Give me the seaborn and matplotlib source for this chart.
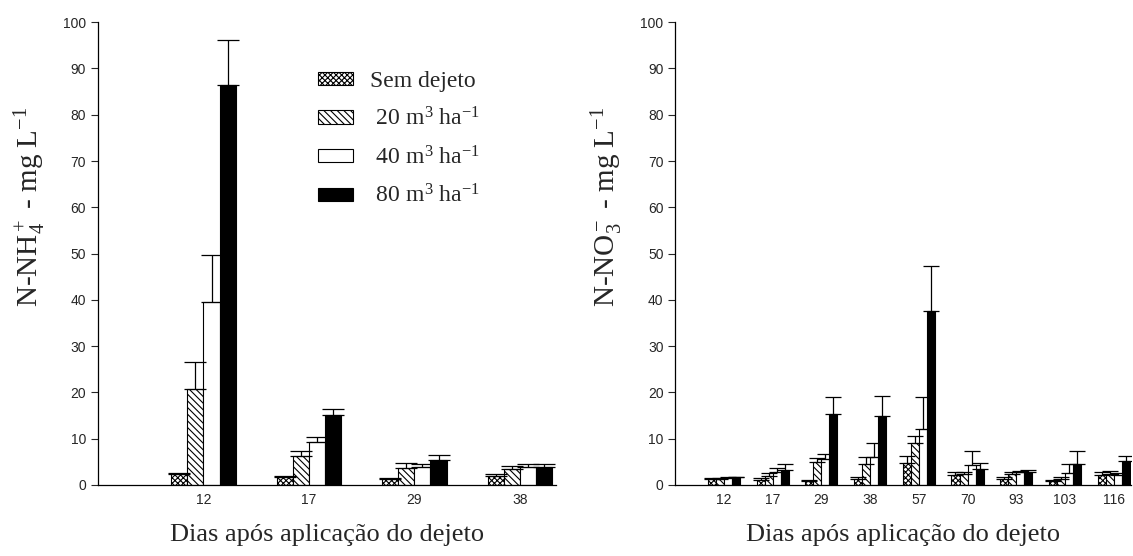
import numpy as np
import pandas as pd
import matplotlib
matplotlib.use("Agg")
import matplotlib.pyplot as plt
import seaborn as sns
from matplotlib.patches import Patch

sns.set_theme(style="ticks")
plt.rcParams['font.family'] = ['Liberation Serif', 'DejaVu Serif']
plt.rcParams['mathtext.fontset'] = 'custom'
plt.rcParams['mathtext.rm'] = 'Liberation Serif'
plt.rcParams['mathtext.it'] = 'Liberation Serif:italic'
plt.rcParams['hatch.linewidth'] = 0.8

# ---------------- data ----------------
treatments = ['Sem dejeto', '20', '40', '80']

dias_nh4 = ['12', '17', '29', '38']
nh4_sem = [2.3, 1.7, 1.3, 2.0]
nh4_sem_err = [0.2, 0.2, 0.2, 0.3]
nh4_20 = [20.8, 6.2, 3.6, 3.5]
nh4_20_err = [5.8, 1.1, 1.2, 0.5]
nh4_40 = [39.5, 9.3, 3.9, 3.8]
nh4_40_err = [10.2, 1.1, 0.7, 0.8]
nh4_80 = [86.5, 15.2, 5.4, 3.8]
nh4_80_err = [9.7, 1.2, 1.0, 0.8]

dias_no3 = ['12', '17', '29', '38', '57', '70', '93', '103', '116']
no3_sem = [1.2, 1.1, 0.9, 1.3, 4.8, 2.2, 1.3, 0.8, 2.1]
no3_sem_err = [0.2, 0.3, 0.2, 0.3, 1.4, 0.5, 0.3, 0.3, 0.6]
no3_20 = [1.3, 2.0, 5.0, 4.4, 9.0, 2.3, 2.4, 1.3, 2.4]
no3_20_err = [0.2, 0.5, 0.8, 1.6, 1.6, 0.5, 0.3, 0.3, 0.6]
no3_40 = [1.4, 2.8, 5.5, 6.0, 12.0, 4.3, 2.7, 2.6, 2.2]
no3_40_err = [0.2, 0.8, 1.2, 3.0, 7.0, 3.0, 0.3, 1.8, 0.4]
no3_80 = [1.6, 3.1, 15.3, 14.9, 37.6, 3.5, 2.8, 4.5, 5.2]
no3_80_err = [0.2, 1.5, 3.6, 4.2, 9.8, 1.3, 0.3, 2.8, 1.1]

legend_labels = ['Sem dejeto',
                 r' 20 m$^3$ ha$^{-1}$',
                 r' 40 m$^3$ ha$^{-1}$',
                 r' 80 m$^3$ ha$^{-1}$']

styles = [dict(facecolor='white', hatch='xxxxxx'),
          dict(facecolor='white', hatch='\\\\\\\\\\'),
          dict(facecolor='white', hatch=''),
          dict(facecolor='black', hatch='')]


def make_df(dias, vals):
    rows = []
    for t, v in zip(treatments, vals):
        for d, y in zip(dias, v):
            rows.append(dict(dia=d, trat=t, val=y))
    return pd.DataFrame(rows)


def draw(ax, dias, vals, errs, width, capsize):
    df = make_df(dias, vals)
    order = [' '] + dias
    sns.barplot(data=df, x='dia', y='val', hue='trat', order=order,
                hue_order=treatments, errorbar=None, width=width,
                edgecolor='black', linewidth=0.8, legend=False, ax=ax)
    for cont, st, err in zip(ax.containers, styles, errs):
        xs, hs, es = [], [], []
        for bar in cont:
            bar.set_facecolor(st['facecolor'])
            bar.set_hatch(st['hatch'])
            bar.set_edgecolor('black')
            xc = bar.get_x() + bar.get_width() / 2
            idx = int(round(xc)) - 1
            if 0 <= idx < len(err):
                xs.append(xc)
                hs.append(bar.get_height())
                es.append(err[idx])
        ax.errorbar(xs, hs, yerr=[np.zeros(len(es)), es], fmt='none',
                    ecolor='black', elinewidth=0.9, capsize=capsize,
                    capthick=0.9)
    ax.set_ylim(0, 100)
    ax.set_yticks(np.arange(0, 101, 10))
    for lab in ax.get_yticklabels() + ax.get_xticklabels():
        lab.set_family(['Liberation Sans', 'DejaVu Sans'])
        lab.set_fontsize(10)
    ax.tick_params(axis='x', length=0, pad=6)
    ax.tick_params(axis='y', length=5, width=0.8, direction='out')
    sns.despine(ax=ax)
    for sp in ('left', 'bottom'):
        ax.spines[sp].set_linewidth(0.9)
        ax.spines[sp].set_color('black')
    ax.set_xlabel('Dias após aplicação do dejeto', fontsize=19, labelpad=12)


fig = plt.figure(figsize=(11.33, 5.56), dpi=100)
ax1 = fig.add_axes([0.0865, 0.128, 0.404, 0.832])
ax2 = fig.add_axes([0.596, 0.128, 0.402, 0.832])

draw(ax1, dias_nh4, [nh4_sem, nh4_20, nh4_40, nh4_80],
     [nh4_sem_err, nh4_20_err, nh4_40_err, nh4_80_err], 0.61, 8)
ax1.set_xlim(0, 4.34)
ax1.set_ylabel(r'N-NH$_4^+$ - mg L$^{-1}$', fontsize=21)
ax1.yaxis.set_label_coords(-0.11, 0.6)

draw(ax2, dias_no3, [no3_sem, no3_20, no3_40, no3_80],
     [no3_sem_err, no3_20_err, no3_40_err, no3_80_err], 0.66, 6)
ax2.set_xlim(0, 9.35)
ax2.set_ylabel(r'N-NO$_3^-$ - mg L$^{-1}$', fontsize=21)
ax2.yaxis.set_label_coords(-0.11, 0.6)

handles = [Patch(facecolor=s['facecolor'], hatch=s['hatch'], edgecolor='black',
                 linewidth=0.8) for s in styles]
ax1.legend(handles, legend_labels, loc='upper left', bbox_to_anchor=(0.46, 0.915),
           frameon=False, fontsize=17, handlelength=1.5, handleheight=0.5,
           handletextpad=0.7, labelspacing=0.65, borderaxespad=0)

fig.savefig('out.png', dpi=100)
